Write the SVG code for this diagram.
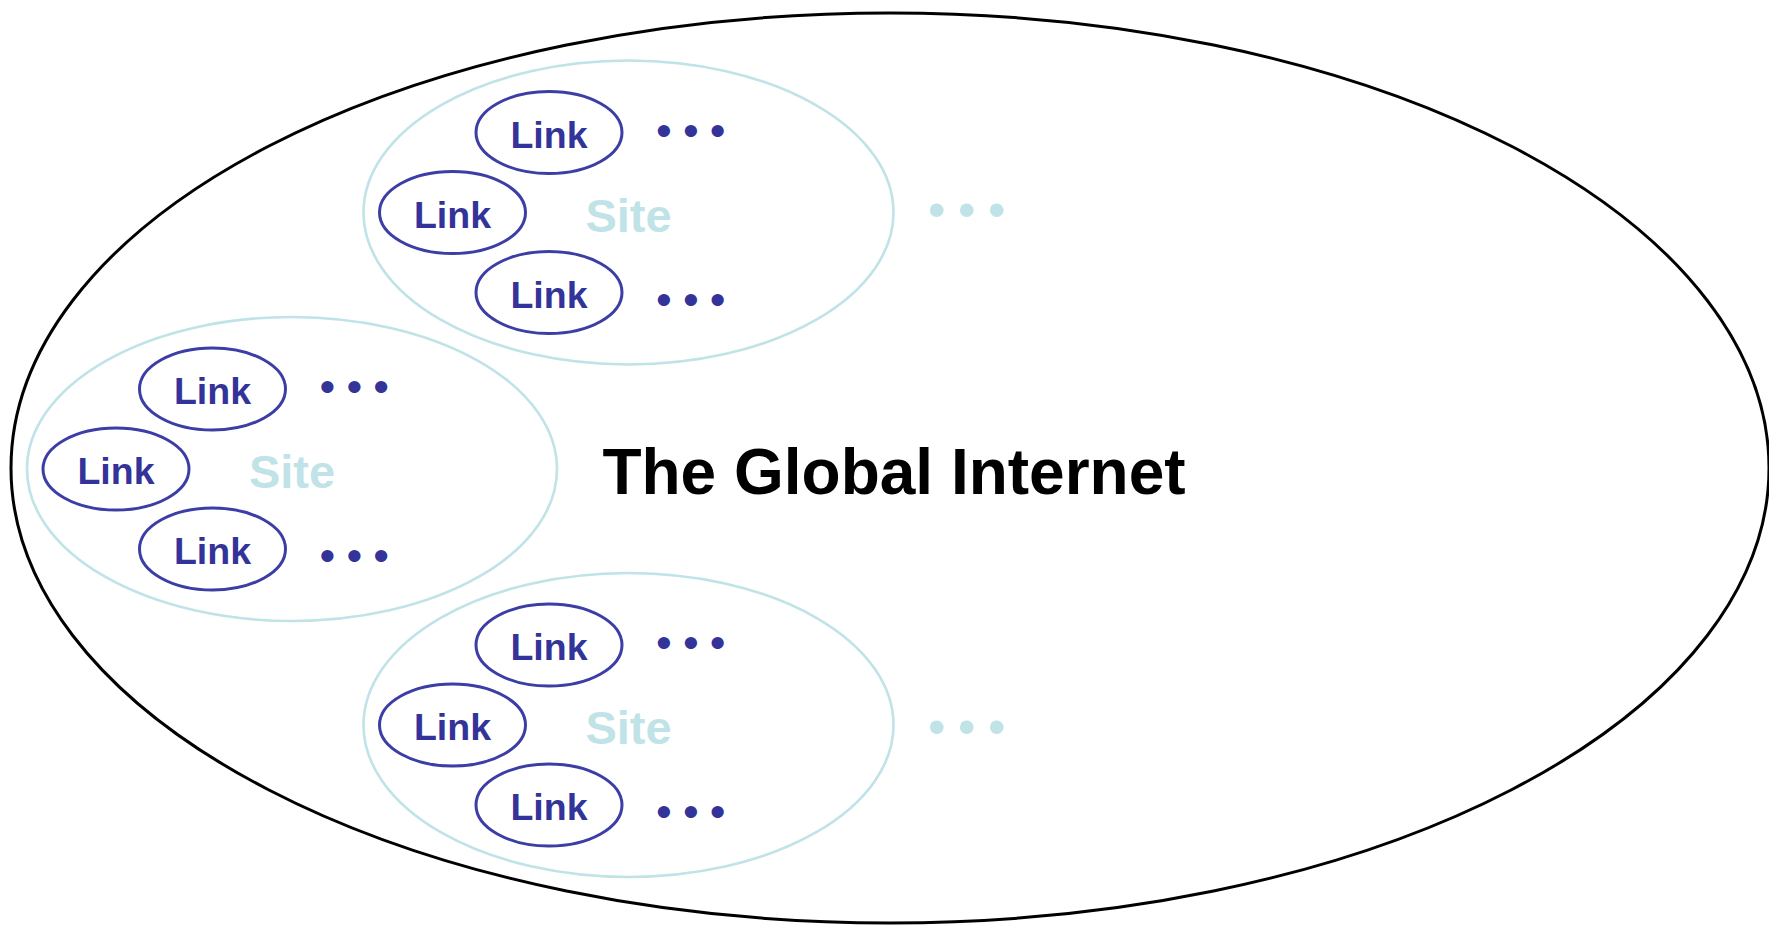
<svg xmlns="http://www.w3.org/2000/svg" width="1769" height="925" viewBox="0 0 1769 925">
  <style>
    .internet { fill: #ffffff; stroke: #000000; stroke-width: 3; }
    .site { fill: none; stroke: #bfe3e7; stroke-width: 2.6; }
    .link { fill: #ffffff; stroke: #3d3da6; stroke-width: 3; }
    .title { font-family: "Liberation Sans", Arial, Helvetica, sans-serif; font-weight: bold; font-size: 64px; fill: #000000; text-anchor: middle; }
    .site-label { font-family: "Liberation Sans", Arial, Helvetica, sans-serif; font-weight: bold; font-size: 47px; fill: #bfe3e7; text-anchor: middle; }
    .link-label { font-family: "Liberation Sans", Arial, Helvetica, sans-serif; font-weight: bold; font-size: 37.5px; fill: #333399; text-anchor: middle; }
    .more { font-family: "Liberation Sans", Arial, Helvetica, sans-serif; font-size: 45px; fill: #333399; text-anchor: middle; letter-spacing: -0.7px; }
    .more-sites { font-family: "Liberation Sans", Arial, Helvetica, sans-serif; font-size: 50px; fill: #bfe3e7; text-anchor: middle; letter-spacing: -0.7px; }
  </style>

  <!-- The whole Internet -->
  <g id="internet">
    <ellipse class="internet" cx="890" cy="468" rx="879" ry="455"/>
    <text class="title" x="894" y="494">The Global Internet</text>
  </g>

  <!-- Site at the top -->
  <g id="site-top" transform="translate(628.5 212.5)">
    <ellipse class="site" cx="0" cy="0" rx="265" ry="152"/>
    <text class="site-label" x="0" y="19">Site</text>
    <g id="site-top-link-1">
      <ellipse class="link" cx="-79.5" cy="-80" rx="73" ry="41"/>
      <text class="link-label" x="-79.5" y="-65">Link</text>
    </g>
    <g id="site-top-link-2">
      <ellipse class="link" cx="-176" cy="0" rx="73" ry="41"/>
      <text class="link-label" x="-176" y="15">Link</text>
    </g>
    <g id="site-top-link-3">
      <ellipse class="link" cx="-79.5" cy="80" rx="73" ry="41"/>
      <text class="link-label" x="-79.5" y="95">Link</text>
    </g>
    <text class="more" x="62" y="-67">• • •</text>
    <text class="more" x="62" y="102">• • •</text>
  </g>

  <!-- Site on the left -->
  <g id="site-left" transform="translate(292 469)">
    <ellipse class="site" cx="0" cy="0" rx="265" ry="152"/>
    <text class="site-label" x="0" y="19">Site</text>
    <g id="site-left-link-1">
      <ellipse class="link" cx="-79.5" cy="-80" rx="73" ry="41"/>
      <text class="link-label" x="-79.5" y="-65">Link</text>
    </g>
    <g id="site-left-link-2">
      <ellipse class="link" cx="-176" cy="0" rx="73" ry="41"/>
      <text class="link-label" x="-176" y="15">Link</text>
    </g>
    <g id="site-left-link-3">
      <ellipse class="link" cx="-79.5" cy="80" rx="73" ry="41"/>
      <text class="link-label" x="-79.5" y="95">Link</text>
    </g>
    <text class="more" x="62" y="-67">• • •</text>
    <text class="more" x="62" y="102">• • •</text>
  </g>

  <!-- Site at the bottom -->
  <g id="site-bottom" transform="translate(628.5 725)">
    <ellipse class="site" cx="0" cy="0" rx="265" ry="152"/>
    <text class="site-label" x="0" y="19">Site</text>
    <g id="site-bottom-link-1">
      <ellipse class="link" cx="-79.5" cy="-80" rx="73" ry="41"/>
      <text class="link-label" x="-79.5" y="-65">Link</text>
    </g>
    <g id="site-bottom-link-2">
      <ellipse class="link" cx="-176" cy="0" rx="73" ry="41"/>
      <text class="link-label" x="-176" y="15">Link</text>
    </g>
    <g id="site-bottom-link-3">
      <ellipse class="link" cx="-79.5" cy="80" rx="73" ry="41"/>
      <text class="link-label" x="-79.5" y="95">Link</text>
    </g>
    <text class="more" x="62" y="-67">• • •</text>
    <text class="more" x="62" y="102">• • •</text>
  </g>

  <!-- More sites beyond the ones drawn -->
  <text class="more-sites" x="966.5" y="227">• • •</text>
  <text class="more-sites" x="966.5" y="744">• • •</text>

  <!-- No connectors in this figure -->
  <g id="connectors"/>
</svg>
